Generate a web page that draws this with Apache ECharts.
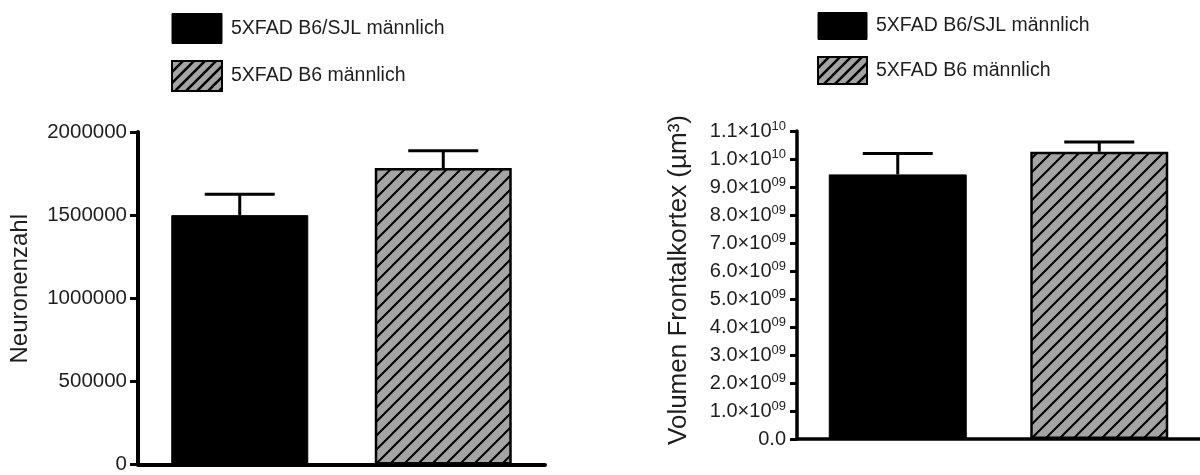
<!DOCTYPE html>
<html>
<head>
<meta charset="utf-8">
<script src="https://cdn.jsdelivr.net/npm/echarts@6/dist/echarts.min.js"></script>
<style>
html,body{margin:0;padding:0;background:#fff;}
#chart{width:1200px;height:475px;}
</style>
</head>
<body>
<div id="chart"></div>
<script>
// ---- data ----
const groups = ['5XFAD B6/SJL männlich', '5XFAD B6 männlich'];
const neuronMean = [1500000, 1783000];
const neuronErr = [126000, 104000];
const volumeMean = [9.45e9, 10.26e9];
const volumeErr = [0.75e9, 0.35e9];
const neuronTicks = ['0', '500000', '1000000', '1500000', '2000000'];
const volumeTickMantissa = ['0.0', '1.0×10', '2.0×10', '3.0×10', '4.0×10', '5.0×10', '6.0×10', '7.0×10', '8.0×10', '9.0×10', '1.0×10', '1.1×10'];
const volumeTickExponent = ['', '09', '09', '09', '09', '09', '09', '09', '09', '09', '10', '10'];
const leftTitle = 'Neuronenzahl';
const rightTitle = 'Volumen Frontalkortex (µm³)';

// ---- hatch pattern ----
function makeHatch(size, lw, gray) {
  const c = document.createElement('canvas');
  c.width = size; c.height = size;
  const g = c.getContext('2d');
  g.fillStyle = gray; g.fillRect(0, 0, size, size);
  g.strokeStyle = '#000'; g.lineWidth = lw; g.lineCap = 'square';
  g.beginPath();
  g.moveTo(-1, size + 1); g.lineTo(size + 1, -1);
  g.moveTo(-size / 2 - 1, size / 2 + 1); g.lineTo(size / 2 + 1, -size / 2 - 1);
  g.moveTo(size / 2 - 1, size * 1.5 + 1); g.lineTo(size * 1.5 + 1, size / 2 - 1);
  g.stroke();
  return c;
}
const hatchBar = { image: makeHatch(14, 2, '#a4a4a4'), repeat: 'repeat' };
const hatchLegend = { image: makeHatch(11, 2.6, '#a4a4a4'), repeat: 'repeat' };

const FONT = '"Liberation Sans", Arial, sans-serif';
const TXT = '#1e1e1e';

function errRender(params, api) {
  const x = api.value(0), m = api.value(1), e = api.value(2);
  const p0 = api.coord([x, m]);
  const p1 = api.coord([x, m + e]);
  const half = 35;
  return {
    type: 'group',
    children: [
      { type: 'line', shape: { x1: p0[0], y1: p0[1], x2: p1[0], y2: p1[1] }, style: { stroke: '#000', lineWidth: 3 } },
      { type: 'line', shape: { x1: p1[0] - half, y1: p1[1], x2: p1[0] + half, y2: p1[1] }, style: { stroke: '#000', lineWidth: 3 } }
    ]
  };
}

const chart = echarts.init(document.getElementById('chart'), null, { renderer: 'canvas' });

const legendCommon = {
  orient: 'vertical',
  icon: 'rect',
  itemGap: 16,
  padding: 0,
  textStyle: { fontFamily: FONT, fontSize: 19.5, color: TXT, padding: [0, 0, 0, 4] },
  selectedMode: false,
  data: [
    { name: groups[0], itemStyle: { color: '#000', borderColor: '#000', borderWidth: 1 } },
    { name: groups[1], itemStyle: { color: hatchLegend, borderColor: '#000', borderWidth: 2 } }
  ]
};

const option = {
  animation: false,
  backgroundColor: '#fff',
  legend: [
    Object.assign({}, legendCommon, { left: 171, top: 13, itemWidth: 50, itemHeight: 30 }),
    Object.assign({}, legendCommon, { left: 817, top: 12, itemWidth: 49, itemHeight: 27 })
  ],
  grid: [
    { left: 138, right: 655, top: 132, bottom: 8 },
    { left: 797, right: 0, top: 131, bottom: 36 }
  ],
  xAxis: [
    { type: 'category', gridIndex: 0, data: groups, axisLine: { lineStyle: { color: '#000', width: 4 } }, axisTick: { show: false }, axisLabel: { show: false } },
    { type: 'category', gridIndex: 1, data: groups, axisLine: { lineStyle: { color: '#000', width: 3.5 } }, axisTick: { show: false }, axisLabel: { show: false } }
  ],
  yAxis: [
    {
      type: 'value', gridIndex: 0, min: 0, max: 2000000, interval: 500000,
      name: leftTitle, nameLocation: 'middle', nameGap: 106,
      nameTextStyle: { fontFamily: FONT, fontSize: 24, color: TXT, padding: [0, 0, 0, 19] },
      axisLine: { show: true, lineStyle: { color: '#000', width: 4 } },
      axisTick: { show: true, length: 8, lineStyle: { color: '#000', width: 3 } },
      axisLabel: { fontFamily: FONT, fontSize: 20.5, color: TXT, margin: 11, formatter: (v, i) => neuronTicks[i] },
      splitLine: { show: false }
    },
    {
      type: 'value', gridIndex: 1, min: 0, max: 1.1e10, interval: 1e9,
      name: rightTitle, nameLocation: 'middle', nameGap: 105,
      nameTextStyle: { fontFamily: FONT, fontSize: 26, color: TXT, padding: [0, 0, 0, 10] },
      axisLine: { show: true, lineStyle: { color: '#000', width: 3.5 } },
      axisTick: { show: true, length: 7, lineStyle: { color: '#000', width: 3 } },
      axisLabel: {
        fontFamily: FONT, color: TXT, margin: 11,
        formatter: (v, i) => volumeTickExponent[i] ? '{a|' + volumeTickMantissa[i] + '}{b|' + volumeTickExponent[i] + '}' : '{a|' + volumeTickMantissa[i] + '}',
        rich: {
          a: { fontFamily: FONT, fontSize: 20, color: TXT, lineHeight: 22 },
          b: { fontFamily: FONT, fontSize: 13, color: TXT, lineHeight: 13, verticalAlign: 'top', padding: [0, 0, 10, 0] }
        }
      },
      splitLine: { show: false }
    }
  ],
  series: [
    { name: groups[0], type: 'bar', xAxisIndex: 0, yAxisIndex: 0, barWidth: 137, barGap: '-100%', data: [neuronMean[0], '-'], itemStyle: { color: '#000', borderColor: '#000', borderWidth: 1 } },
    { name: groups[1], type: 'bar', xAxisIndex: 0, yAxisIndex: 0, barWidth: 137, barGap: '-100%', data: ['-', neuronMean[1]], itemStyle: { color: hatchBar, borderColor: '#000', borderWidth: 2.5 } },
    { type: 'custom', xAxisIndex: 0, yAxisIndex: 0, renderItem: errRender, data: groups.map((g, i) => [i, neuronMean[i], neuronErr[i]]), z: 1 },
    { name: groups[0], type: 'bar', xAxisIndex: 1, yAxisIndex: 1, barWidth: 138, barGap: '-100%', data: [volumeMean[0], '-'], itemStyle: { color: '#000', borderColor: '#000', borderWidth: 1 } },
    { name: groups[1], type: 'bar', xAxisIndex: 1, yAxisIndex: 1, barWidth: 138, barGap: '-100%', data: ['-', volumeMean[1]], itemStyle: { color: hatchBar, borderColor: '#000', borderWidth: 2.5 } },
    { type: 'custom', xAxisIndex: 1, yAxisIndex: 1, renderItem: errRender, data: groups.map((g, i) => [i, volumeMean[i], volumeErr[i]]), z: 1 }
  ]
};
chart.setOption(option);
</script>
</body>
</html>
